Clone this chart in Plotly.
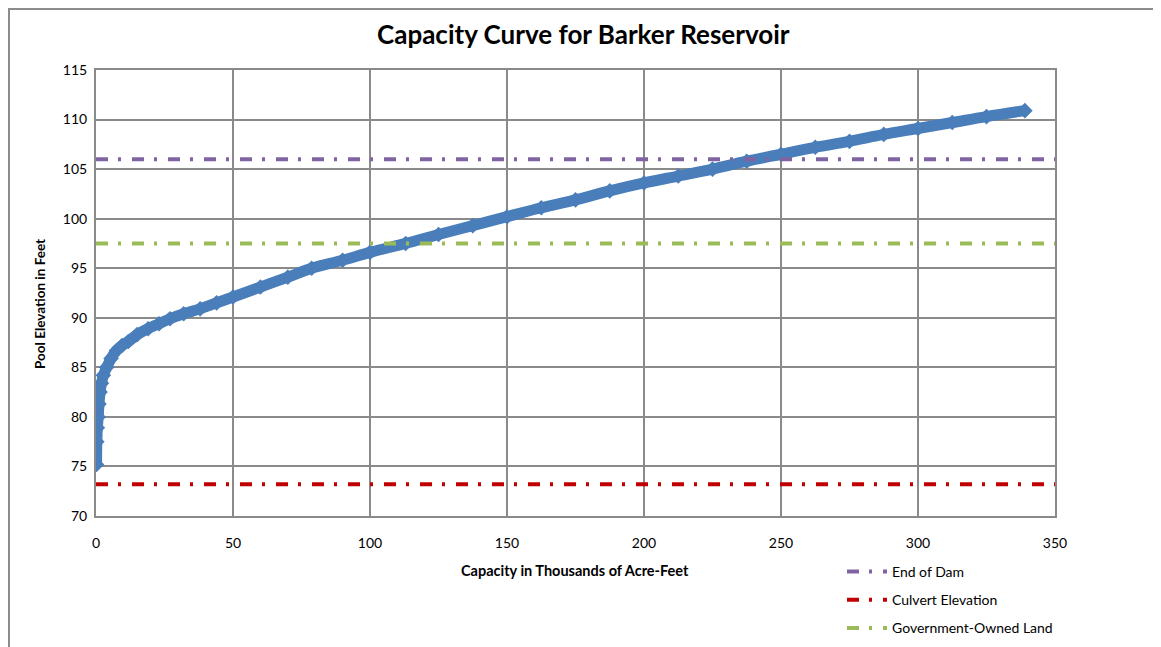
import plotly.graph_objects as go

# Capacity curve (thousands of acre-feet) vs pool elevation (feet)
capacity = [0.2, 0.3, 0.5, 0.8, 1.1, 1.5, 2.0, 2.7, 3.9, 5.5, 7.5, 9.5, 11.8, 15.0, 19.0,
            23.0, 27.0, 32.0, 38.0, 44.0, 50.0, 60.0, 70.0, 78.7, 90.0, 100.0, 113.0,
            125.0, 137.5, 150.0, 162.5, 175.0, 187.5, 200.0, 212.5, 225.0, 237.5, 250.0,
            262.5, 275.0, 287.5, 300.0, 312.5, 325.0, 339.0]
elevation = [75.2, 77.5, 78.9, 80.0, 81.3, 82.5, 83.4, 84.2, 85.0, 85.9, 86.7, 87.2, 87.6, 88.3, 88.9,
             89.4, 89.9, 90.4, 90.9, 91.5, 92.1, 93.1, 94.1, 95.0, 95.8, 96.6, 97.5,
             98.4, 99.3, 100.2, 101.1, 101.9, 102.8, 103.6, 104.3, 105.0, 105.8, 106.5,
             107.2, 107.8, 108.5, 109.1, 109.7, 110.3, 110.9]

ref_names = ["End of Dam", "Culvert Elevation", "Government-Owned Land"]
ref_levels = [106.0, 73.2, 97.5]
ref_colors = ["#8064A2", "#C00000", "#9BBB59"]
x_extent = [0, 350]

x_ticks = [0, 50, 100, 150, 200, 250, 300, 350]
y_ticks = [70, 75, 80, 85, 90, 95, 100, 105, 110, 115]

FONT = "Lato"
OFF = 8  # page body margin offset

fig = go.Figure()
fig.add_trace(go.Scatter(
    x=capacity, y=elevation, mode="lines+markers", name="Capacity Curve",
    line=dict(color="#4A7EBB", width=11, shape="spline"),
    marker=dict(symbol="diamond", size=12, color="#4A7EBB"),
    showlegend=False))

for i, (nm, lv, col) in enumerate(zip(ref_names, ref_levels, ref_colors)):
    fig.add_trace(go.Scatter(
        x=x_extent, y=[lv, lv], mode="lines", name=nm, legendgroup=f"g{i}",
        line=dict(color=col, width=4, dash="12px,10px,3px,11px")))

grid = "#8a8a8a"
fig.update_xaxes(range=[0, 350], tickvals=x_ticks, showgrid=True, gridcolor=grid, gridwidth=2,
                 showline=True, linecolor=grid, linewidth=2, mirror=True, zeroline=False,
                 ticks="", ticklabelstandoff=13, tickfont=dict(family=FONT, size=14, color="#000"))
fig.update_yaxes(range=[70, 115], tickvals=y_ticks, showgrid=True, gridcolor=grid, gridwidth=2,
                 showline=True, linecolor=grid, linewidth=2, mirror=True, zeroline=False,
                 ticks="", ticklabelstandoff=4, tickfont=dict(family=FONT, size=14, color="#000"))

W, H = 1161 - OFF, 658 - OFF
# plot area in page coordinates
L, R, T, B = 96, 1055, 70, 516
pw, ph = R - L, B - T

def px(x):
    return (x - L) / pw

def py(y):
    return (B - y) / ph

annotations = [
    dict(text="<b>Capacity Curve for Barker Reservoir</b>", x=px(583), y=py(34),
         xref="paper", yref="paper", xanchor="center", yanchor="middle", showarrow=False,
         font=dict(family=FONT, size=26, color="#000")),
    dict(text="<b>Capacity in Thousands of Acre-Feet</b>", x=px(575), y=py(570),
         xref="paper", yref="paper", xanchor="center", yanchor="middle", showarrow=False,
         font=dict(family=FONT, size=14.5, color="#000")),
    dict(text="<b>Pool Elevation in Feet</b>", x=px(40), y=py(304), textangle=-90,
         xref="paper", yref="paper", xanchor="center", yanchor="middle", showarrow=False,
         font=dict(family=FONT, size=13.5, color="#000")),
]

fig.update_layout(
    width=W, height=H,
    margin=dict(l=L - OFF, r=W - (R - OFF), t=T - OFF, b=H - (B - OFF)),
    paper_bgcolor="white", plot_bgcolor="white",
    annotations=annotations,
    shapes=[dict(type="rect", xref="paper", yref="paper", x0=px(OFF + 1), x1=px(1157),
                 y0=py(720), y1=py(OFF + 1), line=dict(color="#8c8c8c", width=2), layer="below")],
    legend=dict(x=px(842), y=py(556), xanchor="left", yanchor="top", tracegroupgap=7,
                itemwidth=40,
                font=dict(family=FONT, size=14, color="#000"), bgcolor="rgba(0,0,0,0)"),
    showlegend=True,
)

fig.write_html("out.html")
